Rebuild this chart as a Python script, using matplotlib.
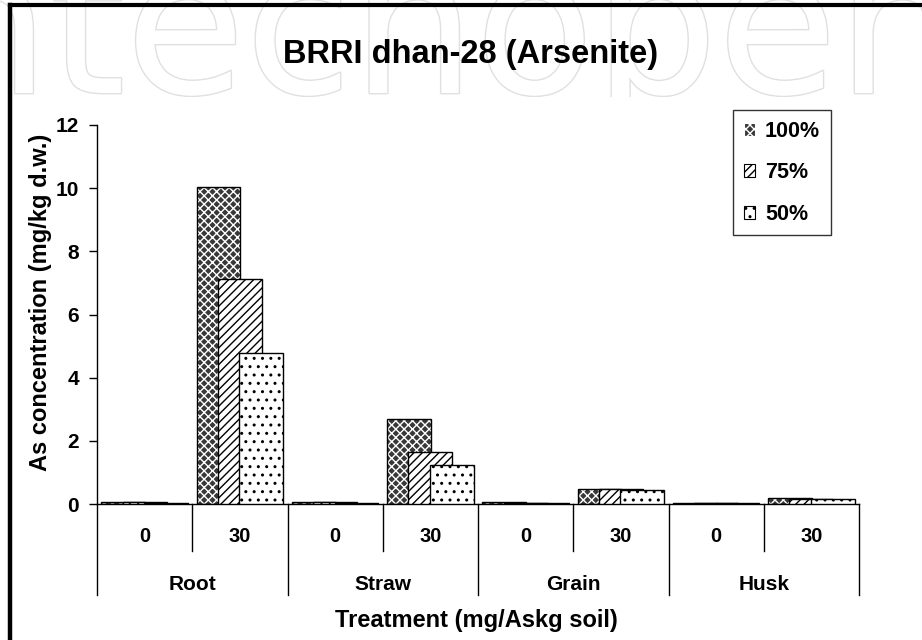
import matplotlib
matplotlib.use("Agg")
import matplotlib.pyplot as plt
import numpy as np
from matplotlib.lines import Line2D
from matplotlib.patches import Patch
from matplotlib.transforms import Bbox
import matplotlib.transforms as mtransforms
import matplotlib.patheffects as pe

plt.rcParams['font.family'] = ['Liberation Sans', 'DejaVu Sans']
plt.rcParams['hatch.linewidth'] = 1.0

# ---- data ----
categories = ['Root', 'Straw', 'Grain', 'Husk']
treatments = ['0', '30']
series_names = ['100%', '75%', '50%']
s100 = [0.05, 10.04, 0.05, 2.68, 0.05, 0.48, 0.04, 0.18]
s75 = [0.05, 7.12, 0.05, 1.64, 0.04, 0.47, 0.03, 0.17]
s50 = [0.04, 4.78, 0.04, 1.25, 0.04, 0.43, 0.03, 0.15]
y_ticks = [0, 2, 4, 6, 8, 10, 12]
watermark = 'intechopen'

W, H = 922, 640
fig = plt.figure(figsize=(W / 100, H / 100), dpi=100)

# faint watermark at the top (clipped like the reference)
wm = fig.text(-128 / W, 1 - 93 / H, watermark, fontsize=140, color='white',
              family='DejaVu Sans', zorder=-5,
              path_effects=[pe.withStroke(linewidth=2.0, foreground='#e0e0e0')])
wm.set_clip_box(Bbox([[0, H - 97], [W, H]]))
wm.set_clip_on(True)

ax = fig.add_axes([97 / W, 1 - 504 / H, (859 - 97) / W, (504 - 125) / H])
ax.patch.set_alpha(0)

n = len(s100)
x = np.arange(n)
width = 0.46
offsets = [-0.225, 0.0, 0.225]
styles = [
    dict(face='#383838', hatchc='white', hatch='xxxx'),
    dict(face='white', hatchc='black', hatch='////'),
    dict(face='white', hatchc='black', hatch='..'),
]
data = [s100, s75, s50]
for i, (vals, st) in enumerate(zip(data, styles)):
    ax.bar(x + offsets[i], vals, width, color=st['face'], edgecolor=st['hatchc'],
           hatch=st['hatch'], linewidth=0, zorder=2 + 2 * i)
    ax.bar(x + offsets[i], vals, width, color='none', edgecolor='black',
           linewidth=1.0, zorder=3 + 2 * i)

ax.set_xlim(-0.5, n - 0.5)
ax.set_ylim(0, 12)
ax.set_yticks(y_ticks)
ax.set_yticklabels([str(t) for t in y_ticks], fontsize=15, fontweight='bold')
ax.tick_params(axis='y', direction='out', length=6, width=1, pad=7)
ax.set_xticks([])
for s in ['top', 'right']:
    ax.spines[s].set_visible(False)
ax.spines['left'].set_linewidth(1)
ax.spines['bottom'].set_linewidth(1)

# category axis dividers and labels
trans = mtransforms.blended_transform_factory(ax.transData, fig.transFigure)
y0 = 1 - 504 / H
y_inner = 1 - 551 / H
y_outer = 1 - 595 / H
for k in range(n + 1):
    xb = k - 0.5
    yend = y_outer if k % 2 == 0 else y_inner
    fig.add_artist(Line2D([xb, xb], [y0, yend], transform=trans, color='black', lw=1))
for k in range(n):
    fig.text(k, 1 - 537 / H, treatments[k % 2], transform=trans, ha='center', va='center',
             fontsize=14.5, fontweight='bold')
for g, name in enumerate(categories):
    fig.text(2 * g + 0.5, 1 - 584 / H, name, transform=trans, ha='center', va='center',
             fontsize=15, fontweight='bold')

fig.text(476 / W, 1 - 620 / H, 'Treatment (mg/Askg soil)', ha='center', va='center',
         fontsize=17, fontweight='bold')
fig.text(40 / W, 1 - 302 / H, 'As concentration (mg/kg d.w.)', ha='center', va='center',
         rotation=90, fontsize=17, fontweight='bold')
fig.text(471 / W, 1 - 55 / H, 'BRRI dhan-28 (Arsenite)', ha='center', va='center',
         fontsize=23.5, fontweight='bold')

# legend
handles = [Patch(facecolor=st['face'], edgecolor=st['hatchc'], hatch=st['hatch'], linewidth=0.8)
           for st in styles]
leg = ax.legend(handles, series_names, loc='upper right',
                bbox_to_anchor=(831 / W, 1 - 110 / H),
                bbox_transform=fig.transFigure,
                prop=dict(size=15.5, weight='bold'), frameon=True, fancybox=False,
                edgecolor='black', handlelength=0.55, handleheight=0.55, handletextpad=0.45,
                labelspacing=0.95, borderpad=0.5, borderaxespad=0)
leg.get_frame().set_linewidth(1)
leg.set_zorder(20)

# outer frame (left and top)
fig.add_artist(Line2D([10 / W, 10 / W], [0, 1 - 5 / H], transform=fig.transFigure,
                      color='black', lw=3.2, solid_capstyle='projecting'))
fig.add_artist(Line2D([10 / W, 1.0], [1 - 5 / H, 1 - 5 / H], transform=fig.transFigure,
                      color='black', lw=3.0, solid_capstyle='projecting'))

fig.savefig('out.png', dpi=100)
